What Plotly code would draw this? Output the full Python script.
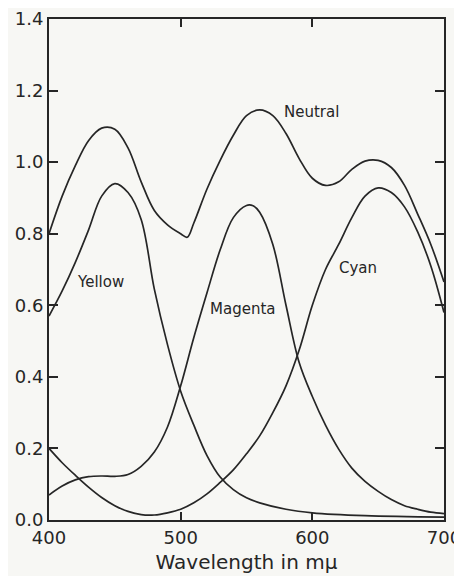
import plotly.graph_objects as go

# Wavelength (m\u03bc) and density readings for each curve
neutral_wl = [400, 410, 420, 430, 440, 450, 460, 470, 480, 490, 500, 505, 510, 520, 530, 540, 550, 560, 570, 580, 590, 600, 610, 620, 630, 640, 650, 660, 670, 680, 690, 700]
neutral_d = [0.80, 0.905, 0.99, 1.06, 1.095, 1.092, 1.04, 0.945, 0.865, 0.825, 0.80, 0.79, 0.83, 0.925, 1.005, 1.075, 1.13, 1.146, 1.13, 1.08, 1.01, 0.955, 0.935, 0.945, 0.98, 1.003, 1.005, 0.985, 0.935, 0.855, 0.77, 0.665]

yellow_wl = [400, 410, 420, 430, 440, 450, 460, 470, 480, 490, 500, 510, 520, 530, 540, 550, 560, 580, 600, 640, 700]
yellow_d = [0.57, 0.64, 0.72, 0.81, 0.905, 0.94, 0.915, 0.84, 0.645, 0.49, 0.36, 0.265, 0.18, 0.12, 0.085, 0.062, 0.048, 0.03, 0.02, 0.012, 0.008]

magenta_wl = [400, 410, 420, 430, 440, 450, 460, 470, 480, 490, 500, 510, 520, 530, 540, 550, 555, 560, 570, 580, 590, 600, 610, 620, 630, 640, 650, 660, 670, 680, 690, 700]
magenta_d = [0.07, 0.095, 0.112, 0.121, 0.123, 0.122, 0.127, 0.15, 0.19, 0.26, 0.375, 0.51, 0.635, 0.755, 0.845, 0.879, 0.878, 0.86, 0.77, 0.60, 0.44, 0.345, 0.265, 0.198, 0.145, 0.108, 0.08, 0.057, 0.04, 0.03, 0.022, 0.018]

cyan_wl = [400, 410, 420, 430, 440, 450, 460, 470, 480, 490, 500, 510, 520, 530, 540, 550, 560, 570, 580, 590, 600, 610, 620, 630, 640, 650, 660, 670, 680, 690, 700]
cyan_d = [0.20, 0.16, 0.125, 0.092, 0.063, 0.04, 0.024, 0.015, 0.014, 0.02, 0.03, 0.048, 0.073, 0.105, 0.14, 0.185, 0.235, 0.30, 0.375, 0.475, 0.60, 0.70, 0.77, 0.845, 0.905, 0.928, 0.915, 0.875, 0.805, 0.71, 0.58]

x_ticks = [400, 500, 600, 700]
y_ticks = [0.0, 0.2, 0.4, 0.6, 0.8, 1.0, 1.2, 1.4]
y_tick_text = ["0.0", "0.2", "0.4", "0.6", "0.8", "1.0", "1.2", "1.4"]

labels = ["Neutral", "Yellow", "Magenta", "Cyan"]
label_wl = [577, 419.5, 520.5, 618.5]
label_d = [1.14, 0.665, 0.59, 0.705]

ink = "#262626"
fig = go.Figure()
for wl, d, name in [(neutral_wl, neutral_d, "Neutral"), (yellow_wl, yellow_d, "Yellow"),
                    (magenta_wl, magenta_d, "Magenta"), (cyan_wl, cyan_d, "Cyan")]:
    fig.add_trace(go.Scatter(x=wl, y=d, mode="lines", name=name,
                             line=dict(color=ink, width=1.7, shape="spline", smoothing=1.0),
                             showlegend=False, hoverinfo="skip"))

for t, x, y in zip(labels, label_wl, label_d):
    fig.add_annotation(x=x, y=y, text=t, showarrow=False, xanchor="left", yanchor="middle",
                       font=dict(family="DejaVu Sans", size=15, color=ink))

# the page body adds an 8px margin, so the figure is sized to fit the window
fig.update_layout(
    width=454, height=568,
    margin=dict(l=41, r=18, t=11, b=56),
    paper_bgcolor="#f7f7f4", plot_bgcolor="#f7f7f4",
    font=dict(family="DejaVu Sans", color=ink),
)
fig.update_xaxes(range=[400, 700], tickvals=x_ticks, ticks="inside", ticklen=8, tickwidth=1.5,
                 tickcolor=ink, showline=True, linecolor=ink, linewidth=1.8, mirror="ticks",
                 showgrid=False, zeroline=False, automargin=False,
                 tickfont=dict(size=18, color=ink),
                 title=dict(text="Wavelength in m\u03bc", font=dict(size=20, color=ink), standoff=8))
fig.update_yaxes(range=[0, 1.4], tickvals=y_ticks, ticktext=y_tick_text, ticks="inside", ticklen=9,
                 tickwidth=1.5, tickcolor=ink, showline=True, linecolor=ink, linewidth=1.8,
                 mirror="ticks", showgrid=False, zeroline=False, automargin=False,
                 tickfont=dict(size=18, color=ink))

fig.write_html("out.html")
